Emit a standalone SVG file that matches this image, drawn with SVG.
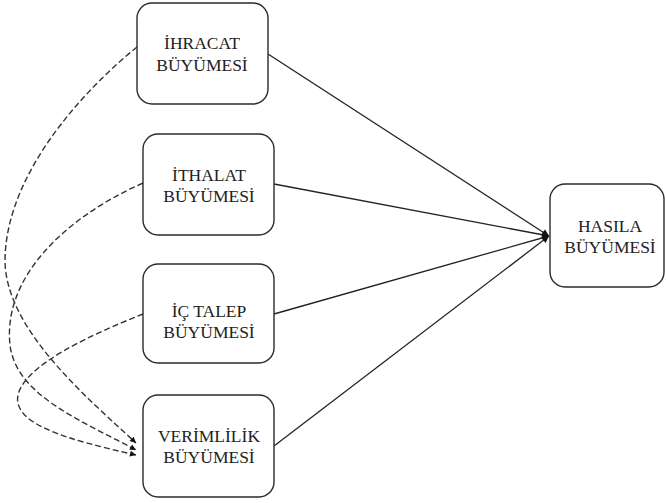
<svg xmlns="http://www.w3.org/2000/svg" width="666" height="503" viewBox="0 0 666 503">
<style>
.box{fill:#fff;stroke:#2b2b2b;stroke-width:1.4}
.t{font-family:'Liberation Serif','DejaVu Serif',serif;font-size:17.5px;fill:#222;text-anchor:middle}
.s{fill:none;stroke:#222;stroke-width:1.3}
.d{fill:none;stroke:#333;stroke-width:1.4;stroke-dasharray:6,3}
</style>
<defs>
<marker id="ah" viewBox="0 0 10 10" refX="10" refY="5" markerWidth="8" markerHeight="7" markerUnits="userSpaceOnUse" orient="auto"><path d="M0,0L10,5L0,10z" fill="#111"/></marker>
<marker id="ad" viewBox="0 0 10 10" refX="10" refY="5" markerWidth="7" markerHeight="6" markerUnits="userSpaceOnUse" orient="auto"><path d="M0,0L10,5L0,10z" fill="#111"/></marker>
</defs>
<g id="connectors">
<path class="s" d="M268,54L549,236" marker-end="url(#ah)"/>
<path class="s" d="M274,184L549,236" marker-end="url(#ah)"/>
<path class="s" d="M274,314L549,236" marker-end="url(#ah)"/>
<path class="s" d="M274,446L549,236" marker-end="url(#ah)"/>
<path class="d" d="M137,47C90,85 6,170 5,260C5,330 90,400 136,443" marker-end="url(#ad)"/>
<path class="d" d="M143,183C60,220 3,280 10,345C16,395 80,420 136,450" marker-end="url(#ad)"/>
<path class="d" d="M143,314C90,335 25,365 18,395C12,425 70,440 136,455" marker-end="url(#ad)"/>
</g>
<g id="ihracat"><rect class="box" x="137" y="3" width="131" height="101" rx="15"/><text class="t" x="202" y="49">İHRACAT</text><text class="t" x="202" y="71">BÜYÜMESİ</text></g>
<g id="ithalat"><rect class="box" x="143" y="134" width="131" height="101" rx="15"/><text class="t" x="209" y="181">İTHALAT</text><text class="t" x="209" y="202">BÜYÜMESİ</text></g>
<g id="ictalep"><rect class="box" x="143" y="264" width="131" height="99" rx="15"/><text class="t" x="209" y="317">İÇ TALEP</text><text class="t" x="209" y="338">BÜYÜMESİ</text></g>
<g id="verimlilik"><rect class="box" x="143" y="395" width="131" height="102" rx="15"/><text class="t" x="209" y="442">VERİMLİLİK</text><text class="t" x="209" y="463">BÜYÜMESİ</text></g>
<g id="hasila"><rect class="box" x="550" y="184" width="114" height="103" rx="15"/><text class="t" x="610" y="232">HASILA</text><text class="t" x="610" y="253">BÜYÜMESİ</text></g>
</svg>
